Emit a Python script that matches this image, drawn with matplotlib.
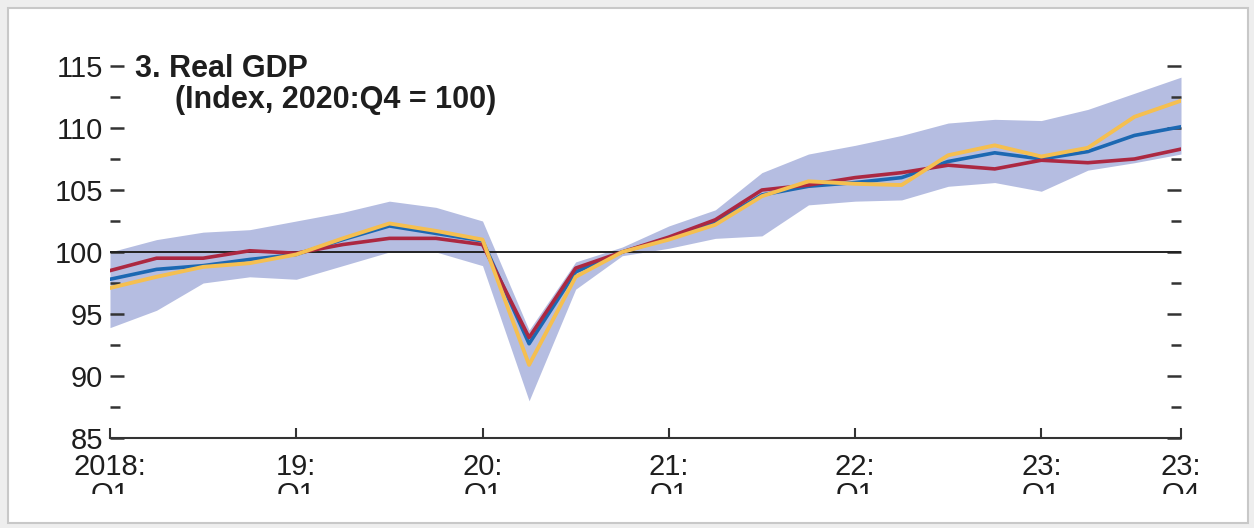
import numpy as np
import matplotlib.pyplot as plt
from matplotlib.patches import Rectangle
from matplotlib.transforms import Bbox, TransformedBbox

# quarters 2018:Q1 .. 2023:Q4
quarters = np.arange(24)

band_hi = [100.0, 101.0, 101.6, 101.8, 102.5, 103.2, 104.1, 103.6, 102.5, 93.7, 99.2, 100.4,
           102.1, 103.4, 106.4, 107.9, 108.6, 109.4, 110.4, 110.7, 110.6, 111.5, 112.8, 114.1]
band_lo = [93.9, 95.3, 97.5, 98.0, 97.8, 98.9, 100.0, 100.0, 98.9, 88.0, 97.0, 99.7,
           100.3, 101.1, 101.3, 103.8, 104.1, 104.2, 105.3, 105.6, 104.9, 106.6, 107.2, 107.9]
blue = [97.8, 98.6, 98.9, 99.4, 99.8, 101.0, 102.1, 101.5, 100.9, 92.6, 98.4, 100.0,
        101.1, 102.4, 104.6, 105.3, 105.6, 106.0, 107.3, 108.0, 107.5, 108.1, 109.4, 110.1]
red = [98.5, 99.5, 99.5, 100.1, 99.9, 100.6, 101.1, 101.1, 100.6, 93.1, 98.7, 100.0,
       101.2, 102.6, 105.0, 105.4, 106.0, 106.4, 107.0, 106.7, 107.4, 107.2, 107.5, 108.3]
yellow = [97.1, 98.0, 98.8, 99.1, 99.8, 101.1, 102.3, 101.7, 101.0, 90.9, 98.0, 100.0,
          101.0, 102.2, 104.5, 105.7, 105.5, 105.4, 107.8, 108.6, 107.7, 108.4, 110.9, 112.2]

xtick_pos = [0, 4, 8, 12, 16, 20, 23]
xtick_labels = ['2018:\nQ1', '19:\nQ1', '20:\nQ1', '21:\nQ1', '22:\nQ1', '23:\nQ1', '23:\nQ4']
ytick_major = [85, 90, 95, 100, 105, 110, 115]
ytick_minor = [87.5, 92.5, 97.5, 102.5, 107.5, 112.5]

W, H = 1254, 528
plt.rcParams['font.family'] = ['Liberation Sans', 'DejaVu Sans']
fs = 21
txt_col = '#1e1e1e'
ax_col = '#333333'

fig = plt.figure(figsize=(W / 100, H / 100), dpi=100, facecolor='#eeeeee')
# white panel with a light grey border
fig.patches.append(Rectangle((8 / W, 1 - 523 / H), 1240 / W, 515 / H, transform=fig.transFigure,
                             facecolor='white', edgecolor='#c8c8c8', lw=1.5, zorder=-1))

ax = fig.add_axes([110 / W, 1 - 438 / H, 1071 / W, 372 / H])
ax.set_facecolor('none')

ax.fill_between(quarters, band_lo, band_hi, color='#b5bde1', lw=0, zorder=1)
ax.axhline(100, color='#222222', lw=1.4, zorder=2)
ax.plot(quarters, blue, color='#1c68b2', lw=2.6, zorder=3)
ax.plot(quarters, red, color='#ac2841', lw=2.6, zorder=4)
ax.plot(quarters, yellow, color='#f5bf50', lw=2.8, zorder=5)

ax.set_xlim(0, 23)
ax.set_ylim(85, 115)

for s in ['top', 'left', 'right']:
	ax.spines[s].set_visible(False)
ax.spines['bottom'].set_color(ax_col)
ax.spines['bottom'].set_linewidth(1.5)

ax.set_yticks(ytick_major)
ax.set_yticks(ytick_minor, minor=True)
ax.tick_params(axis='y', which='both', direction='in', left=True, right=True,
               colors=ax_col, labelcolor=txt_col, labelsize=fs, width=1.8, pad=5)
ax.tick_params(axis='y', which='major', length=10)
ax.tick_params(axis='y', which='minor', length=7)

ax.set_xticks(xtick_pos, xtick_labels)
ax.tick_params(axis='x', direction='in', length=7, width=1.5, colors=ax_col,
               labelcolor=txt_col, labelsize=fs, pad=11)

# second line of the date labels is cut off in the original
clip = TransformedBbox(Bbox([[0, 1 - 494 / H], [1, 1]]), fig.transFigure)
for lab in ax.get_xticklabels():
	lab.set_linespacing(1.0)
	lab.set_clip_on(True)
	lab.set_clip_box(clip)

fig.text(135 / W, 1 - 77 / H, '3. Real GDP', fontsize=fs + 1, fontweight='bold',
         color=txt_col, va='baseline')
fig.text(175 / W, 1 - 108 / H, '(Index, 2020:Q4 = 100)', fontsize=fs + 1, fontweight='bold',
         color=txt_col, va='baseline')

fig.savefig('out.png', dpi=100, facecolor=fig.get_facecolor())
